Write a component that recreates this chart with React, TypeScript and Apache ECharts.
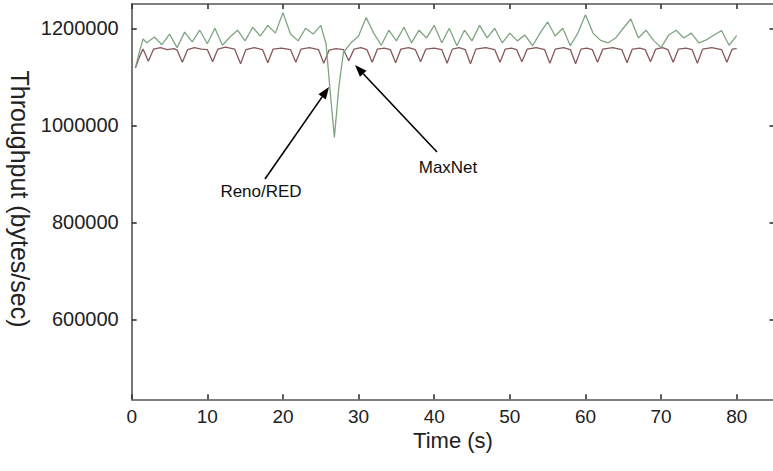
import React, { useEffect, useRef } from "react";
import * as echarts from "echarts";

// Reno/RED throughput samples (time s, bytes/sec)
const renoTime = [
  0.5, 1, 1.5, 2, 3, 4, 5, 6, 7, 8, 9, 10, 11, 12, 13, 14, 15, 16, 17, 18, 19, 20,
  21, 22, 23, 24, 25, 25.7, 26.3, 26.8, 27.4, 28, 29, 30, 31, 32, 33, 34, 35, 36, 37,
  38, 39, 40, 41, 42, 43, 44, 45, 46, 47, 48, 49, 50, 51, 52, 53, 54, 55, 56, 57, 58,
  59, 60, 61, 62, 63, 64, 65, 66, 67, 68, 69, 70, 71, 72, 73, 74, 75, 76, 77, 78, 79, 80,
];
const renoValue = [
  1120000, 1150000, 1178000, 1170000, 1182000, 1166000, 1188000, 1160000, 1192000,
  1172000, 1196000, 1168000, 1200000, 1165000, 1182000, 1196000, 1174000, 1202000,
  1184000, 1206000, 1190000, 1232000, 1188000, 1174000, 1200000, 1188000, 1206000,
  1168000, 1060000, 975000, 1080000, 1150000, 1170000, 1184000, 1222000, 1190000,
  1165000, 1196000, 1174000, 1202000, 1170000, 1196000, 1180000, 1206000, 1170000,
  1200000, 1164000, 1196000, 1174000, 1206000, 1180000, 1200000, 1170000, 1190000,
  1174000, 1186000, 1164000, 1190000, 1213000, 1184000, 1200000, 1164000, 1190000,
  1228000, 1190000, 1175000, 1170000, 1180000, 1200000, 1219000, 1180000, 1196000,
  1175000, 1160000, 1186000, 1196000, 1180000, 1190000, 1170000, 1176000, 1186000,
  1195000, 1165000, 1185000,
];

// MaxNet throughput samples (time s, bytes/sec)
const maxnetTime = [
  0.5, 1.0, 1.5, 2.2, 2.9, 3.8, 4.7, 5.6, 6.0, 6.7, 7.4, 8.3, 9.2, 10.0, 10.7, 11.4,
  12.4, 13.6, 14.4, 15.1, 16.2, 17.3, 18.0, 18.7, 19.8, 21.0, 21.7, 22.4, 23.5, 24.7,
  25.4, 26.1, 27.0, 28.0, 28.7, 29.4, 30.3, 31.1, 31.8, 32.5, 33.4, 34.2, 34.9, 35.6,
  36.6, 37.5, 38.2, 38.9, 40.0, 41.0, 41.7, 42.4, 43.3, 44.1, 44.8, 45.5, 46.8, 48.0,
  48.7, 49.4, 50.2, 50.9, 51.6, 52.3, 53.5, 54.6, 55.3, 56.0, 57.1, 58.0, 58.7, 59.4,
  60.2, 60.9, 61.6, 62.3, 63.6, 64.8, 65.5, 66.2, 67.2, 67.9, 68.6, 69.3, 70.2, 70.9,
  71.6, 72.3, 73.3, 74.1, 74.8, 75.5, 76.7, 78.0, 78.7, 79.4, 80.0,
];
const maxnetValue = [
  1118000, 1140000, 1157000, 1132000, 1157000, 1160000, 1156000, 1158000, 1155000,
  1130000, 1156000, 1160000, 1157000, 1156000, 1131000, 1157000, 1161000, 1157000,
  1127000, 1156000, 1160000, 1156000, 1129000, 1157000, 1159000, 1156000, 1130000,
  1157000, 1160000, 1156000, 1128000, 1155000, 1158000, 1156000, 1133000, 1157000,
  1160000, 1156000, 1130000, 1157000, 1159000, 1156000, 1129000, 1157000, 1160000,
  1156000, 1131000, 1157000, 1159000, 1156000, 1128000, 1157000, 1160000, 1156000,
  1127000, 1157000, 1160000, 1156000, 1130000, 1157000, 1159000, 1156000, 1131000,
  1157000, 1160000, 1156000, 1128000, 1157000, 1160000, 1156000, 1127000, 1157000,
  1159000, 1156000, 1130000, 1157000, 1160000, 1156000, 1129000, 1157000, 1159000,
  1156000, 1131000, 1157000, 1160000, 1156000, 1130000, 1157000, 1159000, 1156000,
  1128000, 1157000, 1160000, 1156000, 1130000, 1157000, 1158000,
];

const xTicks = [0, 10, 20, 30, 40, 50, 60, 70, 80];
const yTicks = [600000, 800000, 1000000, 1200000];

const FONT = "'Liberation Sans', Arial, Helvetica, sans-serif";
const AXIS_COLOR = "#555";

function arrow(tail: [number, number], head: [number, number]) {
  const dx = head[0] - tail[0];
  const dy = head[1] - tail[1];
  const len = Math.sqrt(dx * dx + dy * dy);
  const ux = dx / len;
  const uy = dy / len;
  const hl = 12;
  const hw = 4.5;
  const bx = head[0] - hl * ux;
  const by = head[1] - hl * uy;
  const nx = -uy;
  const ny = ux;
  return [
    {
      type: "line",
      shape: { x1: tail[0], y1: tail[1], x2: bx, y2: by },
      style: { stroke: "#000", lineWidth: 1.6 },
      silent: true,
    },
    {
      type: "polygon",
      shape: {
        points: [
          [head[0], head[1]],
          [bx + hw * nx, by + hw * ny],
          [bx - hw * nx, by - hw * ny],
        ],
      },
      style: { fill: "#000" },
      silent: true,
    },
  ];
}

export default function App() {
  const ref = useRef<HTMLDivElement>(null);

  useEffect(() => {
    if (!ref.current) return;
    const chart = echarts.init(ref.current, undefined, { renderer: "svg" });

    const axisLine = { show: true, onZero: false, lineStyle: { color: AXIS_COLOR, width: 1.6 } };
    const tickStyle = { color: "#333", width: 1.6 };

    chart.setOption({
      animation: false,
      backgroundColor: "#fff",
      grid: {
        left: 131.7,
        top: 4,
        right: -1.5,
        bottom: 71.7,
        containLabel: false,
        outerBoundsMode: "none",
      },
      xAxis: [
        {
          type: "value",
          min: 0,
          max: 85,
          position: "bottom",
          axisLine,
          axisTick: { show: true, inside: true, length: 5, customValues: xTicks, lineStyle: tickStyle },
          axisLabel: {
            show: true,
            customValues: xTicks,
            fontSize: 19,
            color: "#222",
            margin: 8,
            fontFamily: FONT,
          },
          splitLine: { show: false },
        },
        {
          type: "value",
          min: 0,
          max: 85,
          position: "top",
          axisLine,
          axisTick: { show: true, inside: true, length: 5, customValues: xTicks, lineStyle: tickStyle },
          axisLabel: { show: false },
          splitLine: { show: false },
        },
      ],
      yAxis: [
        {
          type: "value",
          min: 435000,
          max: 1250000,
          position: "left",
          axisLine,
          axisTick: { show: true, inside: true, length: 5, customValues: yTicks, lineStyle: tickStyle },
          axisLabel: {
            show: true,
            customValues: yTicks,
            formatter: (v: number) => String(Math.round(v)),
            fontSize: 20,
            color: "#222",
            margin: 13,
            fontFamily: FONT,
          },
          splitLine: { show: false },
        },
        {
          type: "value",
          min: 435000,
          max: 1250000,
          position: "right",
          axisLine,
          axisTick: { show: true, inside: true, length: 5, customValues: yTicks, lineStyle: tickStyle },
          axisLabel: { show: false },
          splitLine: { show: false },
        },
      ],
      series: [
        {
          name: "MaxNet",
          type: "line",
          xAxisIndex: 0,
          yAxisIndex: 0,
          showSymbol: false,
          symbol: "none",
          lineStyle: { color: "#86585a", width: 1.3 },
          data: maxnetTime.map((t, i) => [t, maxnetValue[i]]),
          z: 2,
        },
        {
          name: "Reno/RED",
          type: "line",
          xAxisIndex: 0,
          yAxisIndex: 0,
          showSymbol: false,
          symbol: "none",
          lineStyle: { color: "#7fa580", width: 1.3 },
          data: renoTime.map((t, i) => [t, renoValue[i]]),
          z: 3,
        },
      ],
      graphic: [
        {
          type: "text",
          x: 20,
          y: 199,
          rotation: -Math.PI / 2,
          style: {
            text: "Throughput (bytes/sec)",
            fontSize: 25,
            fontFamily: FONT,
            fill: "#222",
            align: "center",
            verticalAlign: "middle",
          },
        },
        {
          type: "text",
          x: 453,
          y: 440,
          style: {
            text: "Time (s)",
            fontSize: 22,
            fontFamily: FONT,
            fill: "#222",
            align: "center",
            verticalAlign: "middle",
          },
        },
        {
          type: "text",
          x: 261,
          y: 191,
          style: {
            text: "Reno/RED",
            fontSize: 17,
            fontFamily: FONT,
            fill: "#111",
            align: "center",
            verticalAlign: "middle",
          },
        },
        {
          type: "text",
          x: 448,
          y: 167,
          style: {
            text: "MaxNet",
            fontSize: 17,
            fontFamily: FONT,
            fill: "#111",
            align: "center",
            verticalAlign: "middle",
          },
        },
        ...arrow([265, 179], [329, 87]),
        ...arrow([437, 152], [355, 65]),
      ],
    });

    return () => chart.dispose();
  }, []);

  return (
    <div
      ref={ref}
      style={{ position: "fixed", left: 0, top: 0, width: 773, height: 471, background: "#fff" }}
    />
  );
}
